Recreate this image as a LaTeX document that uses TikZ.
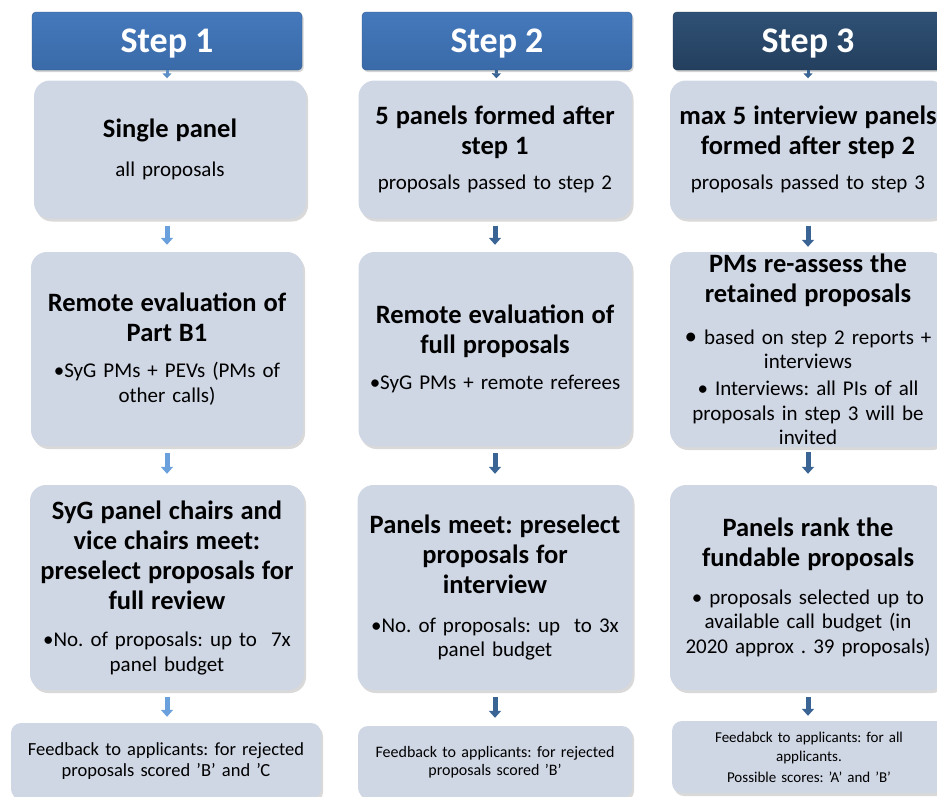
\documentclass[tikz,border=0pt]{standalone}
\usepackage{fontspec}
\setmainfont{Carlito}
\usetikzlibrary{shadows,arrows.meta}
\definecolor{boxfill}{HTML}{CFD6E4}
\definecolor{hdrA}{HTML}{4479BC}
\definecolor{hdrB}{HTML}{3A6AA8}
\definecolor{hdrC}{HTML}{2F5175}
\definecolor{hdrD}{HTML}{243F5E}
\definecolor{arrLt}{HTML}{6AA1DC}
\definecolor{arrDk}{HTML}{3A6494}
\newcommand{\hfnt}{\fontsize{26.5}{30}\selectfont\bfseries}
\newcommand{\bfnt}{\fontsize{21}{24.5}\selectfont}
\newcommand{\sq}{\char"27\relax}
\tikzset{
  hdr/.style={rounded corners=4pt, minimum width=270pt, minimum height=58pt, inner sep=0pt,
    text=white, font=\fontsize{36}{40}\selectfont\bfseries, text depth=0pt,
    drop shadow={opacity=.35, shadow xshift=1.5pt, shadow yshift=-2pt}},
  hdrblue/.style={hdr, top color=hdrA, bottom color=hdrB, draw=hdrB!85!black},
  hdrnavy/.style={hdr, top color=hdrC, bottom color=hdrD, draw=hdrD!85!black},
  card/.style={fill=boxfill, rounded corners=16pt, align=center, inner sep=4pt, font=\bfnt,
    drop shadow={opacity=.3, shadow xshift=2pt, shadow yshift=-3pt}},
  fcard/.style={card, rounded corners=10pt},
  arrowL/.style={line width=5pt, draw=arrLt, -{Triangle[width=12pt,length=7pt]}},
  arrowD/.style={line width=5pt, draw=arrDk, -{Triangle[width=12pt,length=7pt]}},
  tinyL/.style={line width=3pt, draw=arrLt!70!arrDk, -{Triangle[width=9pt,length=5pt]}},
  tinyD/.style={line width=3pt, draw=arrDk, -{Triangle[width=9pt,length=5pt]}},
}
\begin{document}
\frenchspacing
\begin{tikzpicture}[x=1pt,y=-1pt]
\useasboundingbox (0,0) rectangle (937,796);
\clip (0,0) rectangle (937,796);

% headers
\node[hdrblue] (h1) at (167,41) {Step 1};
\node[hdrblue] (h2) at (497,41) {Step 2};
\node[hdrnavy] (h3) at (808,41) {Step 3};

% column 1
\node[card, minimum width=272pt, minimum height=138pt, text width=264pt] (a1) at (170,149.5)
  {{\hfnt Single panel\par}\vspace{14pt}all proposals\par};
\node[card, minimum width=272pt, minimum height=194pt, text width=264pt] (a2) at (167,349)
  {{\hfnt Remote evaluation of\\Part B1\par}\vspace{12pt}\textbullet SyG PMs + PEVs (PMs of\\other calls)\par};
\node[card, minimum width=274pt, minimum height=205pt, text width=266pt] (a3) at (167,587.5)
  {{\hfnt SyG panel chairs and\\vice chairs meet:\\preselect proposals for\\full review\par}\vspace{13pt}\textbullet No. of proposals: up to\ \ 7x\\panel budget\par};
\node[fcard, minimum width=310pt, minimum height=76pt, text width=302pt, font=\fontsize{18.5}{21}\selectfont] (a4) at (166,761)
  {Feedback to applicants: for rejected\\proposals scored \sq B\sq{} and \sq C\par};

% column 2
\node[card, minimum width=273pt, minimum height=138pt, text width=265pt] (b1) at (495,149.5)
  {{\hfnt 5 panels formed after\\step 1\par}\vspace{11pt}proposals passed to step 2\par};
\node[card, minimum width=273pt, minimum height=194pt, text width=265pt] (b2) at (495,349)
  {{\hfnt Remote evaluation of\\full proposals\par}\vspace{12pt}\textbullet SyG PMs + remote referees\par};
\node[card, minimum width=275pt, minimum height=205pt, text width=267pt] (b3) at (495,587.5)
  {{\hfnt Panels meet: preselect\\proposals for\\interview\par}\vspace{14pt}\textbullet No. of proposals: up\ \ to 3x\\panel budget\par};
\node[fcard, minimum width=274pt, minimum height=72pt, text width=266pt, font=\fontsize{16}{18.5}\selectfont] (b4) at (495,762)
  {Feedback to applicants: for rejected\\proposals scored \sq B\sq\par};

% column 3
\node[card, minimum width=276pt, minimum height=138pt, text width=272pt, inner sep=2pt] (c1) at (808,149.5)
  {{\hfnt max 5 interview panels\\formed after step 2\par}\vspace{11pt}proposals passed to step 3\par};
\node[card, minimum width=276pt, minimum height=195pt, text width=272pt, inner sep=2pt] (c2) at (808,349.5)
  {{\hfnt PMs re-assess the\\retained proposals\par}\vspace{17pt}{\fontsize{25}{24.5}\selectfont\raisebox{-0.5pt}{\textbullet}}\ based on step 2 reports +\\interviews\par\vspace{2.5pt}\textbullet\ Interviews: all PIs of all\\proposals in step 3 will be\\invited\par};
\node[card, minimum width=276pt, minimum height=205pt, text width=272pt, inner sep=2pt] (c3) at (808,587.5)
  {{\hfnt Panels rank the\\fundable proposals\par}\vspace{13pt}\textbullet\ proposals selected up to\\available call budget (in\\2020 approx . 39 proposals)\par};
\node[fcard, minimum width=272pt, minimum height=72pt, text width=266pt, font=\fontsize{15}{19}\selectfont] (c4) at (809,757)
  {Feedabck to applicants: for all\\applicants.\par\vspace{2pt}Possible scores: \sq A\sq{} and \sq B\sq\par};

% connectors
\draw[tinyL, shorten >=2pt] (h1) -- (h1 |- a1.north);
\draw[tinyD, shorten >=2pt] (h2) -- (b1);
\draw[tinyD, shorten >=2pt] (h3) -- (c1);

\draw[arrowL, shorten <=7pt, shorten >=7pt] (a2.north |- a1.south) -- (a2.north);
\draw[arrowL, shorten <=7pt, shorten >=11pt] (a2) -- (a3);
\draw[arrowL, shorten <=7pt, shorten >=6pt] (a3.south) -- (a3.south |- a4.north);

\draw[arrowD, shorten <=7pt, shorten >=7pt] (b1) -- (b2);
\draw[arrowD, shorten <=7pt, shorten >=11pt] (b2) -- (b3);
\draw[arrowD, shorten <=7pt, shorten >=8pt] (b3) -- (b4.north -| b3.south);

\draw[arrowD, shorten <=7pt, shorten >=5pt] (c1) -- (c2);
\draw[arrowD, shorten <=5pt, shorten >=11pt] (c2) -- (c3);
\draw[arrowD, shorten <=7pt, shorten >=5pt] (c3.south) -- (c3.south |- c4.north);
\end{tikzpicture}
\end{document}
